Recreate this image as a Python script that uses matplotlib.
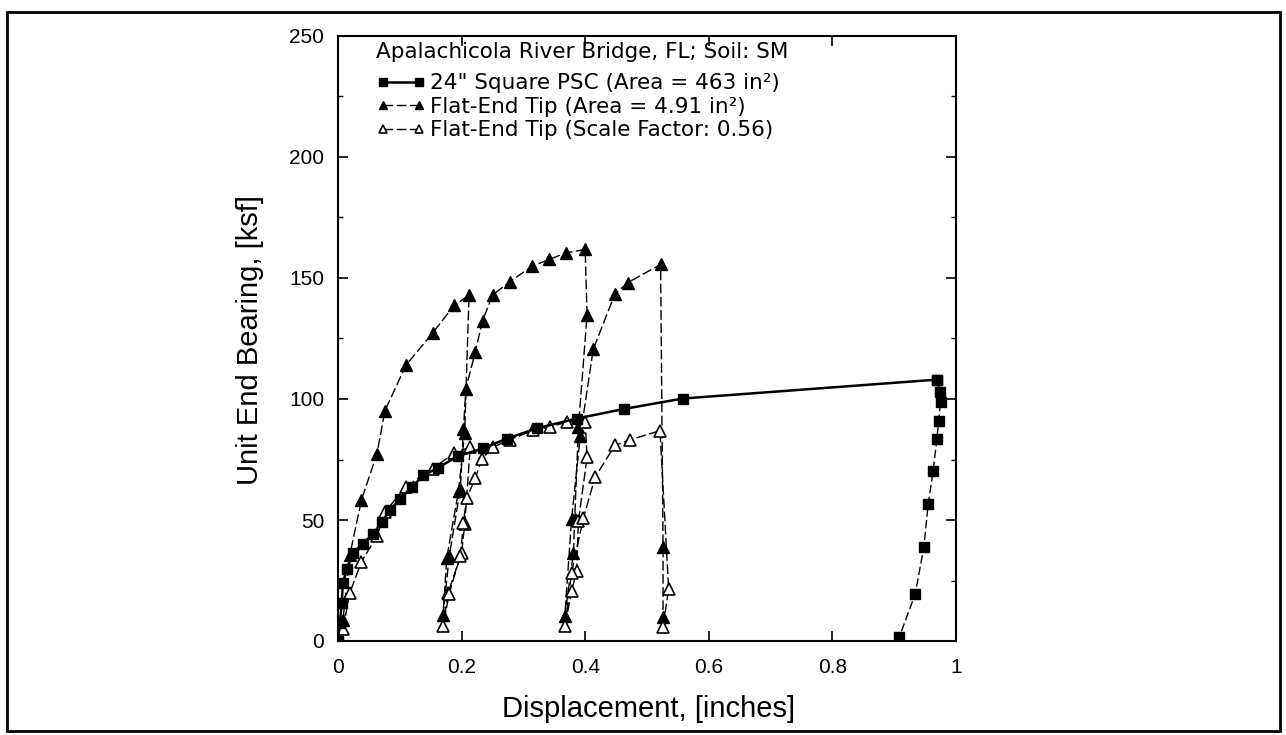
import matplotlib
matplotlib.use("Agg")
import matplotlib.pyplot as plt
from matplotlib.patches import Rectangle
from matplotlib.ticker import MultipleLocator

plt.rcParams['font.family'] = ['Liberation Sans', 'DejaVu Sans']

# 24" square prestressed concrete pile: load curve then unloading branch
psc_disp = [0.000, 0.003, 0.006, 0.008, 0.014, 0.024, 0.040, 0.057, 0.071, 0.084,
            0.100, 0.119, 0.138, 0.162, 0.194, 0.235, 0.273, 0.322, 0.386, 0.463,
            0.558, 0.969, 0.974, 0.975, 0.972, 0.969, 0.963, 0.955, 0.948, 0.934, 0.908]
psc_bear = [0.0, 7.4, 15.8, 23.9, 29.6, 36.2, 40.2, 44.3, 49.2, 54.1,
            58.6, 63.5, 68.4, 71.6, 76.4, 79.6, 83.6, 87.9, 91.9, 95.9,
            100.2, 108.0, 102.8, 98.7, 90.9, 83.5, 70.3, 56.5, 38.8, 19.4, 1.5]
psc_peak = 21  # index of the last loading point

# flat-end tip: load / unload / reload cycles
tip_disp = [0.000, 0.008, 0.019, 0.038, 0.063, 0.076, 0.110, 0.153, 0.188, 0.212,
            0.205, 0.195, 0.176, 0.170,
            0.180, 0.198, 0.203, 0.207, 0.222, 0.234, 0.250, 0.278, 0.314, 0.342, 0.369, 0.400,
            0.403, 0.389, 0.383, 0.381, 0.367,
            0.378, 0.392, 0.413, 0.448, 0.469, 0.522,
            0.526, 0.526]
tip_bear = [0.0, 8.6, 35.4, 58.3, 77.3, 95.2, 114.0, 127.2, 138.7, 142.8,
            86.0, 62.0, 34.3, 10.9,
            35.0, 63.0, 87.8, 104.3, 119.4, 132.4, 142.9, 148.5, 154.8, 157.7, 160.4, 161.8,
            134.6, 88.4, 50.3, 36.5, 10.4,
            50.5, 84.6, 120.5, 143.4, 148.1, 155.6,
            38.8, 9.9]

# flat-end tip scaled to pile size
scaled_disp = [0.000, 0.008, 0.019, 0.038, 0.063, 0.076, 0.110, 0.153, 0.188, 0.214,
               0.205, 0.200, 0.178, 0.170,
               0.180, 0.198, 0.203, 0.208, 0.222, 0.233, 0.251, 0.278, 0.316, 0.343, 0.370, 0.400,
               0.403, 0.389, 0.386, 0.378, 0.367,
               0.378, 0.397, 0.416, 0.448, 0.472, 0.521,
               0.535, 0.526]
scaled_bear = [0.0, 4.8, 19.8, 32.8, 43.3, 53.3, 63.8, 71.2, 77.7, 80.2,
               48.2, 36.3, 19.8, 6.1,
               19.6, 35.3, 48.6, 58.9, 67.2, 75.3, 80.1, 83.2, 87.0, 88.4, 90.5, 90.6,
               75.9, 49.5, 28.8, 20.5, 6.0,
               28.3, 50.7, 67.7, 80.8, 83.1, 86.9,
               21.6, 5.8]

x_ticks = [0, 0.2, 0.4, 0.6, 0.8, 1]
x_tick_labels = ['0', '0.2', '0.4', '0.6', '0.8', '1']
y_ticks = [0, 50, 100, 150, 200, 250]

legend_title = 'Apalachicola River Bridge, FL; Soil: SM'
series_labels = ['24" Square PSC (Area = 463 in²)',
                 'Flat-End Tip (Area = 4.91 in²)',
                 'Flat-End Tip (Scale Factor: 0.56)']

wide = ['DejaVu Sans']

fig = plt.figure(figsize=(12.86, 7.35), dpi=100)
fig.patch.set_facecolor('white')

# page frame
fig.patches.append(Rectangle((7 / 1286, 4 / 735), 1273 / 1286, 719 / 735,
                             transform=fig.transFigure, fill=False,
                             edgecolor='black', linewidth=2.0))

ax = fig.add_axes([338 / 1286, 1 - 641 / 735, 618 / 1286, 605 / 735])

square_style = dict(color='black', marker='s', markersize=7.5,
                    markerfacecolor='black', markeredgecolor='black', zorder=4)
ax.plot(psc_disp[:psc_peak + 1], psc_bear[:psc_peak + 1], linestyle='-',
        linewidth=1.8, label=series_labels[0], **square_style)
ax.plot(psc_disp[psc_peak:], psc_bear[psc_peak:], linestyle=(0, (6, 2.5)),
        linewidth=1.0, **square_style)
ax.plot(tip_disp, tip_bear, color='black', linestyle=(0, (7, 2.5)), linewidth=1.0,
        marker='^', markersize=9, markerfacecolor='black',
        markeredgecolor='black', label=series_labels[1], zorder=3)
ax.plot(scaled_disp, scaled_bear, color='black', linestyle=(0, (7, 2.5)), linewidth=1.0,
        marker='^', markersize=9, markerfacecolor='white',
        markeredgecolor='black', markeredgewidth=1.2, label=series_labels[2], zorder=3)

ax.set_xlim(0, 1)
ax.set_ylim(0, 250)
ax.set_xticks(x_ticks)
ax.set_xticklabels(x_tick_labels)
ax.set_yticks(y_ticks)
ax.yaxis.set_minor_locator(MultipleLocator(25))
ax.tick_params(axis='both', which='major', direction='in', length=7, width=1.2,
               top=True, right=True, labelsize=15)
ax.tick_params(axis='x', which='major', pad=12)
ax.tick_params(axis='y', which='major', pad=10)
ax.tick_params(axis='both', which='minor', direction='in', length=3.5, width=1.0,
               top=True, right=True)
for sp in ax.spines.values():
    sp.set_linewidth(1.5)

ax.set_xlabel('Displacement, [inches]', fontsize=21)
ax.set_ylabel('Unit End Bearing, [ksf]', fontsize=21)
ax.xaxis.set_label_coords(0.503, -0.090)
ax.yaxis.set_label_coords(-0.120, 0.497)

leg = ax.legend(loc='upper left', bbox_to_anchor=(0.062, 0.990), frameon=False,
                prop={'family': wide, 'size': 15.5},
                title=legend_title,
                numpoints=2, handlelength=2.3, handletextpad=0.2,
                labelspacing=0.16, markerscale=0.7, borderaxespad=0.0,
                borderpad=0.0)
leg.get_title().set_fontfamily(wide)
leg.get_title().set_fontsize(15.5)
leg._legend_box.align = 'left'
leg._legend_box.sep = 8

fig.savefig('out.png', dpi=100, facecolor='white')
